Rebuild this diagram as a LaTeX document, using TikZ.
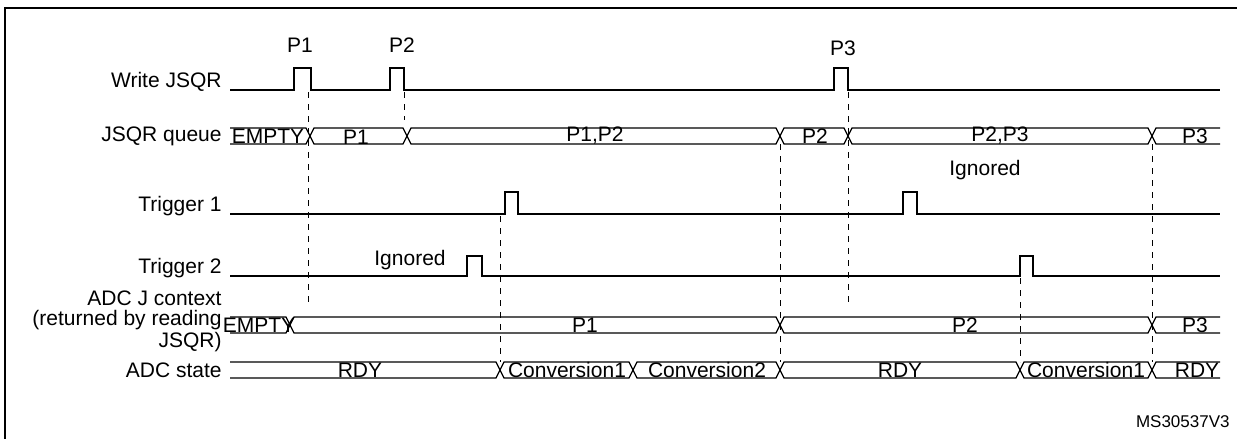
\documentclass[tikz,border=0pt]{standalone}
\usepackage{fontspec}
\setmainfont{Liberation Sans}
\tikzset{
  sig/.style={line width=0.6pt},
  guide/.style={dashed, line width=0.5pt},
  lbl/.style={anchor=east, inner sep=0pt, font=\fontsize{10.5}{11}\selectfont},
  txt/.style={inner sep=0pt, font=\fontsize{10.5}{11}\selectfont},
}
% one bus cell between two crossings
\newcommand{\buscell}[3]{%
  \draw[sig] (#1,#3) -- (#1+4,#3-8) -- (#2-4,#3-8) -- (#2,#3) -- (#2-4,#3+8) -- (#1+4,#3+8) -- cycle;}
% open start and open end of a bus
\newcommand{\busstart}[2]{%
  \draw[sig] (230,#2-8) -- (#1-4,#2-8) -- (#1,#2) -- (#1-4,#2+8) -- (230,#2+8);}
\newcommand{\busend}[2]{%
  \draw[sig] (1220,#2-8) -- (#1+4,#2-8) -- (#1,#2) -- (#1+4,#2+8) -- (1220,#2+8);}
\begin{document}
\begin{tikzpicture}[x=0.5pt, y=-0.5pt]
  \useasboundingbox (0,0) rectangle (1237,439);

  % frame
  \draw[line width=1pt] (5,439) -- (5,8) -- (1237,8);

  % signal names
  \node[lbl] (wr) at (222,82) {Write JSQR};
  \node[lbl] (qu) at (222,136) {JSQR queue};
  \node[lbl] (t1) at (222,206) {Trigger 1};
  \node[lbl] (t2) at (222,268) {Trigger 2};
  \node[lbl] (jc1) at (222,298) {ADC J context};
  \node[lbl] (jc2) at (222,320) {(returned by reading};
  \node[lbl] (jc3) at (222,342) {JSQR)};
  \node[lbl] (st) at (222,370) {ADC state};

  % Write JSQR
  \draw[sig] (230,90) -- (294,90) |- (311,68) |- (390,90) |- (404,68) |- (834,90) |- (848,68) |- (1220,90);
  \node[txt] (p1) at (300,45) {P1};
  \node[txt] (p2) at (402,45) {P2};
  \node[txt] (p3) at (843,48) {P3};

  % JSQR queue
  \busstart{310}{136}
  \buscell{310}{407}{136}
  \buscell{407}{780}{136}
  \buscell{780}{848}{136}
  \buscell{848}{1152}{136}
  \busend{1152}{136}
  \node[txt] (q0) at (268,136) {EMPTY};
  \node[txt] (q1) at (356,137) {P1};
  \node[txt] (q2) at (595,136) {P1,P2};
  \node[txt] (q3) at (815,136) {P2};
  \node[txt] (q4) at (1000,136) {P2,P3};
  \node[txt] (q5) at (1195,136) {P3};
  \node[txt] (ig1) at (985,170) {Ignored};

  % Trigger 1
  \draw[sig] (230,214) -| (505,192) -| (518,214) -| (903,192) -| (917,214) -- (1220,214);

  % Trigger 2
  \draw[sig] (230,276) -| (467,256) -| (482,276) -| (1020,256) -| (1033,276) -- (1220,276);
  \node[txt] (ig2) at (410,260) {Ignored};

  % ADC J context
  \busstart{290}{325}
  \buscell{290}{780}{325}
  \buscell{780}{1152}{325}
  \busend{1152}{325}
  \node[txt] (c0) at (259,325) {EMPTY};
  \node[txt] (c1) at (585,325) {P1};
  \node[txt] (c2) at (965,325) {P2};
  \node[txt] (c3) at (1195,325) {P3};

  % ADC state
  \busstart{500}{370}
  \buscell{500}{633}{370}
  \buscell{633}{780}{370}
  \buscell{780}{1020}{370}
  \buscell{1020}{1152}{370}
  \busend{1152}{370}
  \node[txt] (s0) at (360,370) {RDY};
  \node[txt] (s1) at (567,370) {Conversion1};
  \node[txt] (s2) at (707,370) {Conversion2};
  \node[txt] (s3) at (900,370) {RDY};
  \node[txt] (s4) at (1086,370) {Conversion1};
  \node[txt] (s5) at (1197,370) {RDY};

  % guides
  \draw[guide] (308,92) -- (308,305);
  \draw[guide] (404,92) -- (404,120);
  \draw[guide] (500,216) -- (500,362);
  \draw[guide] (780,144) -- (780,362);
  \draw[guide] (848,92) -- (848,305);
  \draw[guide] (1020,278) -- (1020,362);
  \draw[guide] (1152,144) -- (1152,362);

  \node[txt, font=\fontsize{8.5}{9}\selectfont, anchor=east] (id) at (1230,422) {MS30537V3};
\end{tikzpicture}
\end{document}
